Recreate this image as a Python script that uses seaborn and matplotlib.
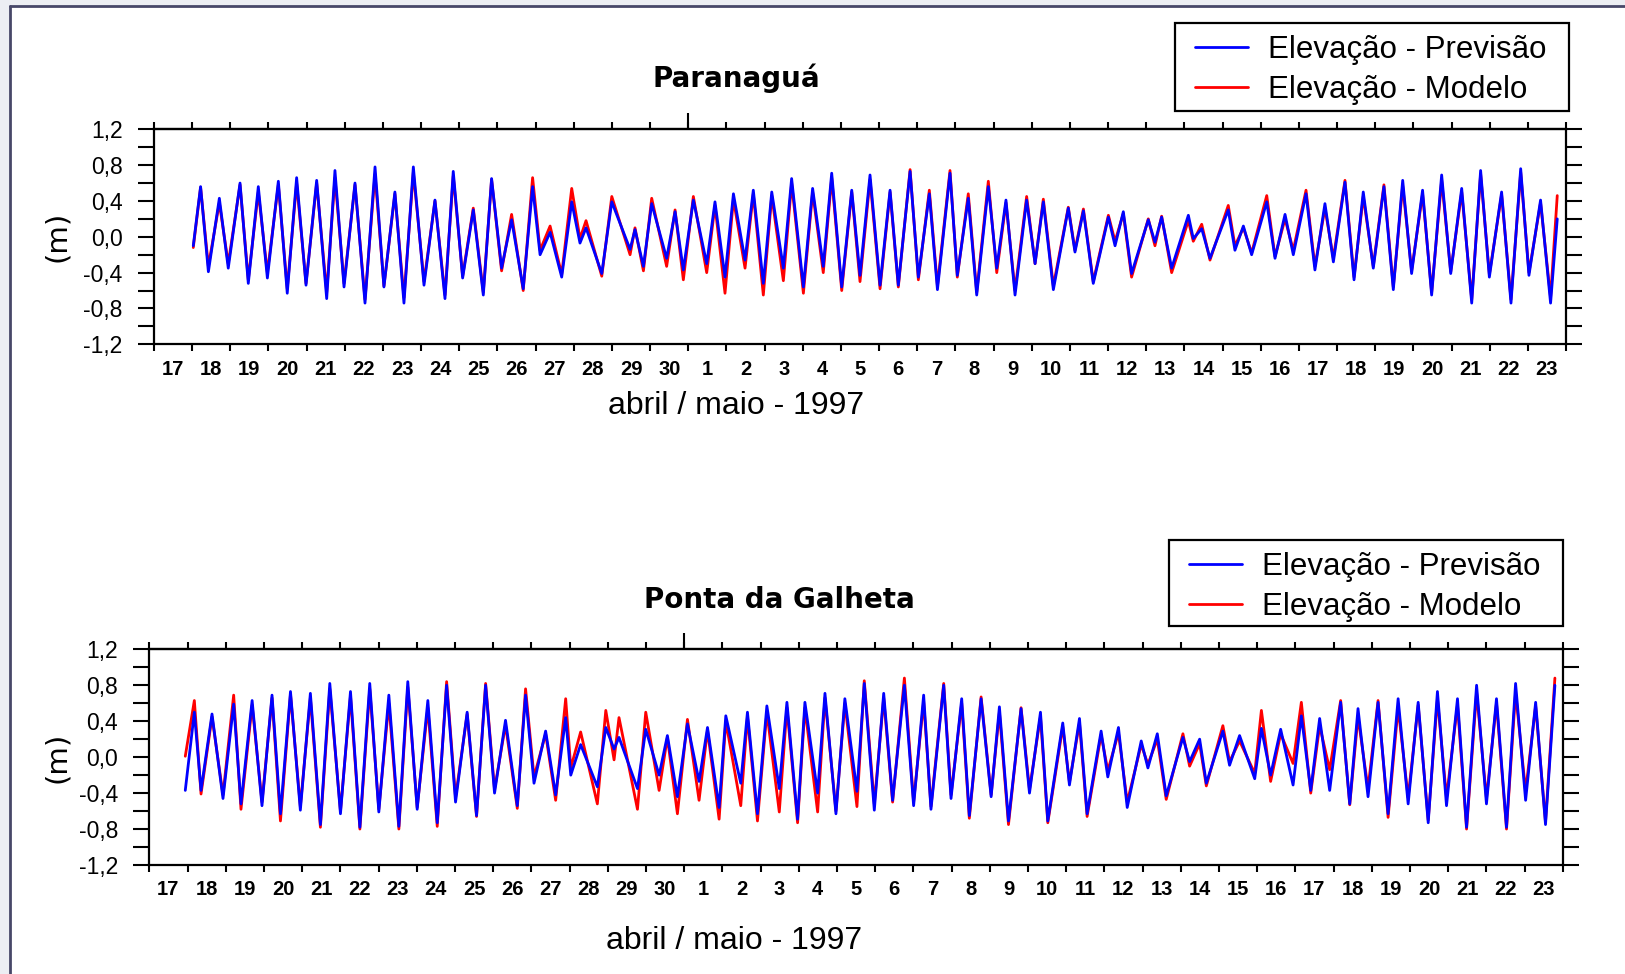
import numpy as np
import pandas as pd
import matplotlib
matplotlib.use('Agg')
import matplotlib.pyplot as plt
import seaborn as sns
from matplotlib.lines import Line2D
from matplotlib.patches import Rectangle

# eixo x: dias de abril / maio 1997 (horas contadas a partir de 17/04 00h)
day_labels = [17, 18, 19, 20, 21, 22, 23, 24, 25, 26, 27, 28, 29, 30,
              1, 2, 3, 4, 5, 6, 7, 8, 9, 10, 11, 12, 13, 14, 15, 16, 17, 18, 19, 20, 21, 22, 23]
y_ticks = [-1.2, -0.8, -0.4, 0.0, 0.4, 0.8, 1.2]
y_labels = ['-1,2', '-0,8', '-0,4', '0,0', '0,4', '0,8', '1,2']

# Paranaguá - instantes de preamar / baixamar (h) e elevações (m)
par_hours = [24.7, 29.3, 34.2, 41.1, 46.7, 54.1, 59.3, 65.6, 71.3, 78.2,
             83.8, 89.7, 95.6, 102.3, 108.6, 113.8, 119.5, 126.4, 132.7, 139.0,
             144.6, 151.5, 157.2, 163.1, 169.8, 176.7, 183.0, 188.2, 194.1, 200.8,
             207.1, 212.3, 218.6, 224.9, 232.2, 238.1,
             242.8, 249.1, 256.4, 262.7, 267.9, 271.7, 281.6, 287.9, 299.4, 302.5,
             307.8, 313.0, 322.4, 327.7, 332.9, 339.2, 347.6, 352.8, 359.1, 364.4,
             371.7, 376.9, 383.2, 388.5, 395.8, 401.0, 408.4, 414.2, 420.9, 426.2,
             432.5, 438.8, 444.0, 450.3, 456.6,
             462.9, 468.1, 475.5, 480.7, 487.6, 492.7, 500.6, 505.2, 512.1, 517.4,
             524.7, 530.0, 535.8, 541.5, 548.8, 554.1, 559.3, 565.6, 575.0, 579.2,
             584.5, 590.7, 600.2, 604.4, 609.6, 614.8, 625.3, 629.5, 633.7, 640.0,
             650.5, 653.6, 658.9, 664.1, 675.6,
             679.8, 685.1, 690.3, 699.8, 705.0, 711.3, 716.5, 724.5, 730.1, 736.4,
             741.7, 749.0, 754.7, 760.5, 766.8, 773.5, 779.4, 785.3, 790.9, 797.8,
             803.5, 809.8, 815.5, 822.4, 828.7, 834.3, 839.8, 847.5, 853.4, 859.5,
             864.7, 872.0, 878.3, 882.5]
par_prev = [-0.10, 0.56, -0.39, 0.43, -0.35, 0.60, -0.52, 0.56, -0.46, 0.62,
            -0.63, 0.66, -0.54, 0.63, -0.69, 0.74, -0.56, 0.60, -0.74, 0.78,
            -0.56, 0.50, -0.74, 0.78, -0.54, 0.41, -0.69, 0.73, -0.46, 0.30,
            -0.65, 0.65, -0.35, 0.19, -0.58, 0.56,
            -0.20, 0.05, -0.45, 0.39, -0.07, 0.10, -0.41, 0.39, -0.14, 0.08,
            -0.33, 0.37, -0.24, 0.28, -0.37, 0.41, -0.30, 0.39, -0.45, 0.48,
            -0.26, 0.52, -0.52, 0.50, -0.35, 0.65, -0.56, 0.54, -0.33, 0.71,
            -0.56, 0.52, -0.43, 0.69, -0.54,
            0.52, -0.54, 0.73, -0.45, 0.48, -0.59, 0.71, -0.43, 0.43, -0.65,
            0.56, -0.35, 0.41, -0.65, 0.41, -0.30, 0.39, -0.59, 0.32, -0.17,
            0.29, -0.52, 0.22, -0.10, 0.28, -0.41, 0.19, -0.06, 0.22, -0.35,
            0.24, -0.02, 0.09, -0.24, 0.30,
            -0.15, 0.12, -0.20, 0.39, -0.24, 0.25, -0.20, 0.48, -0.37, 0.37,
            -0.28, 0.61, -0.48, 0.50, -0.35, 0.56, -0.59, 0.63, -0.41, 0.52,
            -0.65, 0.69, -0.41, 0.54, -0.74, 0.74, -0.45, 0.50, -0.74, 0.76,
            -0.43, 0.41, -0.74, 0.20]
par_model = [-0.12, 0.55, -0.33, 0.38, -0.30, 0.58, -0.48, 0.50, -0.40, 0.58,
             -0.58, 0.60, -0.52, 0.60, -0.62, 0.66, -0.52, 0.58, -0.70, 0.70,
             -0.55, 0.48, -0.68, 0.72, -0.50, 0.40, -0.65, 0.68, -0.44, 0.32,
             -0.62, 0.64, -0.38, 0.25, -0.60, 0.66,
             -0.15, 0.12, -0.42, 0.54, -0.02, 0.18, -0.44, 0.45, -0.20, 0.10,
             -0.38, 0.43, -0.33, 0.30, -0.48, 0.45, -0.40, 0.35, -0.63, 0.42,
             -0.35, 0.48, -0.65, 0.46, -0.49, 0.60, -0.63, 0.50, -0.40, 0.66,
             -0.60, 0.50, -0.50, 0.64, -0.58,
             0.50, -0.56, 0.75, -0.48, 0.52, -0.55, 0.74, -0.45, 0.48, -0.62,
             0.62, -0.40, 0.38, -0.60, 0.45, -0.30, 0.42, -0.55, 0.33, -0.15,
             0.31, -0.50, 0.24, -0.05, 0.26, -0.45, 0.20, -0.10, 0.23, -0.40,
             0.18, -0.05, 0.14, -0.26, 0.35,
             -0.10, 0.10, -0.18, 0.46, -0.22, 0.20, -0.15, 0.52, -0.33, 0.32,
             -0.24, 0.63, -0.45, 0.45, -0.33, 0.58, -0.56, 0.57, -0.38, 0.48,
             -0.62, 0.63, -0.39, 0.50, -0.70, 0.70, -0.42, 0.47, -0.70, 0.72,
             -0.40, 0.38, -0.68, 0.46]

# Ponta da Galheta
gal_hours = [22.6, 28.3, 32.5, 39.4, 46.3, 53.0, 57.6, 64.6, 70.8, 77.1,
             82.4, 88.7, 94.9, 101.2, 107.5, 113.4, 120.1, 126.4, 132.3, 138.5,
             144.2, 150.5, 156.8, 162.4, 168.3, 175.0, 180.9, 186.8, 192.4, 199.7,
             205.6, 211.3, 216.9, 223.8, 231.2, 236.4, 241.7,
             249.0, 255.3, 261.6, 264.8, 271.0, 281.5, 286.8, 292.0, 295.1, 306.7,
             311.9, 320.3, 325.5, 331.8, 338.1, 345.4, 350.7, 358.0, 362.2, 371.6,
             375.8, 382.1, 388.0, 395.8, 400.6, 407.3, 411.9, 419.9, 424.5, 431.4,
             437.0, 444.6, 449.2, 455.5, 461.4,
             467.0, 474.4, 480.2, 486.5, 491.1, 499.1, 503.7, 510.4, 515.2, 522.6,
             528.9, 534.1, 539.8, 547.7, 553.0, 559.9, 564.5, 573.9, 578.1, 584.4,
             589.2, 598.0, 602.2, 608.9, 614.4, 623.2, 627.4, 633.3, 638.9, 649.4,
             653.6, 659.9, 664.1, 674.5, 678.7, 685.0,
             694.5, 698.7, 704.5, 710.8, 718.6, 723.8, 729.7, 735.3, 741.6, 748.5,
             754.2, 759.4, 765.7, 772.0, 778.3, 784.6, 790.9, 797.2, 803.5, 809.3,
             815.0, 821.9, 827.6, 833.9, 840.1, 846.4, 852.7, 858.4, 864.7, 871.0,
             877.2, 883.1]
gal_prev = [-0.37, 0.50, -0.37, 0.48, -0.46, 0.59, -0.52, 0.63, -0.54, 0.69,
            -0.63, 0.73, -0.59, 0.71, -0.75, 0.82, -0.63, 0.73, -0.78, 0.82,
            -0.61, 0.69, -0.77, 0.84, -0.58, 0.63, -0.73, 0.80, -0.50, 0.50,
            -0.65, 0.80, -0.40, 0.41, -0.54, 0.69, -0.29,
            0.29, -0.42, 0.44, -0.20, 0.14, -0.33, 0.33, 0.09, 0.22, -0.35,
            0.31, -0.20, 0.24, -0.44, 0.37, -0.27, 0.33, -0.56, 0.46, -0.29,
            0.50, -0.63, 0.57, -0.35, 0.61, -0.69, 0.61, -0.40, 0.71, -0.63,
            0.65, -0.38, 0.82, -0.59, 0.71,
            -0.48, 0.80, -0.54, 0.69, -0.58, 0.80, -0.46, 0.65, -0.65, 0.65,
            -0.44, 0.56, -0.71, 0.54, -0.40, 0.50, -0.71, 0.38, -0.31, 0.43,
            -0.63, 0.29, -0.22, 0.33, -0.56, 0.18, -0.12, 0.26, -0.43, 0.22,
            -0.05, 0.20, -0.29, 0.29, -0.09, 0.24,
            -0.24, 0.32, -0.20, 0.31, -0.31, 0.46, -0.37, 0.43, -0.37, 0.61,
            -0.52, 0.54, -0.44, 0.61, -0.63, 0.65, -0.52, 0.61, -0.73, 0.73,
            -0.54, 0.65, -0.78, 0.80, -0.52, 0.65, -0.78, 0.82, -0.48, 0.61,
            -0.75, 0.80]
gal_model = [0.01, 0.63, -0.41, 0.45, -0.42, 0.69, -0.58, 0.58, -0.50, 0.66,
             -0.71, 0.70, -0.55, 0.66, -0.78, 0.76, -0.60, 0.68, -0.80, 0.76,
             -0.58, 0.60, -0.80, 0.78, -0.56, 0.55, -0.77, 0.84, -0.45, 0.48,
             -0.66, 0.82, -0.36, 0.36, -0.57, 0.76, -0.22,
             0.26, -0.48, 0.65, -0.12, 0.28, -0.52, 0.52, -0.03, 0.44, -0.58,
             0.50, -0.37, 0.22, -0.63, 0.42, -0.48, 0.30, -0.69, 0.40, -0.54,
             0.45, -0.71, 0.50, -0.61, 0.55, -0.73, 0.55, -0.61, 0.66, -0.60,
             0.60, -0.55, 0.85, -0.52, 0.66,
             -0.50, 0.88, -0.50, 0.62, -0.55, 0.82, -0.42, 0.60, -0.68, 0.67,
             -0.42, 0.50, -0.75, 0.55, -0.36, 0.45, -0.73, 0.34, -0.28, 0.38,
             -0.66, 0.25, -0.15, 0.27, -0.50, 0.14, -0.08, 0.20, -0.47, 0.26,
             -0.10, 0.15, -0.32, 0.35, -0.05, 0.18,
             -0.18, 0.52, -0.27, 0.26, -0.07, 0.61, -0.40, 0.35, -0.14, 0.63,
             -0.53, 0.45, -0.35, 0.63, -0.67, 0.55, -0.45, 0.58, -0.70, 0.65,
             -0.45, 0.58, -0.80, 0.72, -0.46, 0.60, -0.80, 0.72, -0.38, 0.57,
             -0.72, 0.88]

sns.set_style('white')
plt.rcParams['font.family'] = ['DejaVu Sans']
plt.rcParams['text.color'] = 'black'
plt.rcParams['axes.labelcolor'] = 'black'
plt.rcParams['xtick.color'] = 'black'
plt.rcParams['ytick.color'] = 'black'

BLUE = '#0000ff'
RED = '#ff0000'
W, H = 1625, 974
fig = plt.figure(figsize=(W / 100, H / 100), dpi=100)

n_days = len(day_labels)
month_start = day_labels.index(1) * 24


def panel(rect, hours, prev, model, title, title_xy, xlabel_xy, legend_box):
    ax = fig.add_axes(rect)
    df = pd.DataFrame({'hora': hours, 'Previsão': prev, 'Modelo': model})
    sns.lineplot(data=df, x='hora', y='Modelo', ax=ax, color=RED, lw=2.0,
                 estimator=None, sort=False)
    sns.lineplot(data=df, x='hora', y='Previsão', ax=ax, color=BLUE, lw=2.0,
                 estimator=None, sort=False)
    ax.set_xlim(0, n_days * 24)
    ax.set_ylim(-1.2, 1.2)

    ax.set_xticks(np.arange(0, n_days * 24 + 1, 24))
    ax.set_xticklabels([])
    ax.set_xticks(np.arange(12, n_days * 24, 24), minor=True)
    ax.set_xticklabels([str(d) for d in day_labels], minor=True,
                       fontfamily='Liberation Sans', fontweight='bold', fontsize=14.5)
    ax.tick_params(axis='x', which='major', direction='out', length=5, width=1.5,
                   top=True, bottom=True, labelbottom=False)
    ax.tick_params(axis='x', which='minor', length=0, pad=11)

    ax.set_yticks(y_ticks)
    ax.set_yticklabels(y_labels, fontfamily='Liberation Sans', fontsize=16.5)
    ax.set_yticks(np.arange(-1.0, 1.1, 0.4), minor=True)
    ax.tick_params(axis='y', which='both', direction='out', length=11.5, width=1.5,
                   left=True, right=True, labelright=False, pad=11)

    sec = ax.secondary_xaxis('top')
    sec.set_xticks([month_start])
    sec.tick_params(direction='out', length=11.5, width=1.5, labeltop=False)

    for s in ax.spines.values():
        s.set_linewidth(1.6)
        s.set_color('black')
    sec.spines['top'].set_linewidth(1.6)

    ax.set_xlabel('')
    ax.set_ylabel('(m)', fontsize=21, va='center')
    ax.yaxis.set_label_coords((57 - rect[0] * W) / (rect[2] * W), 0.5)

    fig.text(title_xy[0] / W, 1 - title_xy[1] / H, title, ha='center', va='center',
             fontsize=20, fontweight='bold')
    fig.text(xlabel_xy[0] / W, 1 - xlabel_xy[1] / H, 'abril / maio - 1997',
             ha='center', va='center', fontsize=23, fontfamily='Liberation Sans')

    x0, y0, x1, y1 = legend_box
    fig.add_artist(Rectangle((x0 / W, 1 - y1 / H), (x1 - x0) / W, (y1 - y0) / H,
                             transform=fig.transFigure, fill=False,
                             edgecolor='black', lw=1.6))
    handles = [Line2D([], [], color=BLUE, lw=2.0), Line2D([], [], color=RED, lw=2.0)]
    fig.legend(handles, ['Elevação - Previsão', 'Elevação - Modelo'],
               loc='upper left', bbox_to_anchor=((x0 + 20) / W, 1 - (y0 + 12) / H),
               bbox_transform=fig.transFigure, frameon=False,
               prop={'family': 'Liberation Sans', 'size': 22.5},
               handlelength=1.7, handletextpad=0.64, labelspacing=0.33,
               borderpad=0, borderaxespad=0)
    return ax


panel([154 / W, 1 - 344.3 / H, 1412 / W, 215 / H], par_hours, par_prev, par_model,
      'Paranaguá', (736, 78), (736, 406), (1175, 23, 1569, 111))
panel([149.3 / W, 1 - 865 / H, 1413.4 / W, 215.7 / H], gal_hours, gal_prev, gal_model,
      'Ponta da Galheta', (779, 600), (734, 941), (1169, 540, 1563, 626))

# moldura do slide
fig.add_artist(Rectangle((0, 0), 10 / W, 1, transform=fig.transFigure,
                         color='#eceef3', lw=0))
fig.add_artist(Rectangle((0, 1 - 6 / H), 1, 6 / H, transform=fig.transFigure,
                         color='#eceef3', lw=0))
fig.add_artist(Line2D([10 / W, 10 / W], [0, 1 - 6 / H], transform=fig.transFigure,
                      color='#474768', lw=2))
fig.add_artist(Line2D([10 / W, 1], [1 - 6 / H, 1 - 6 / H], transform=fig.transFigure,
                      color='#474768', lw=2))

fig.savefig('out.png', dpi=100)
